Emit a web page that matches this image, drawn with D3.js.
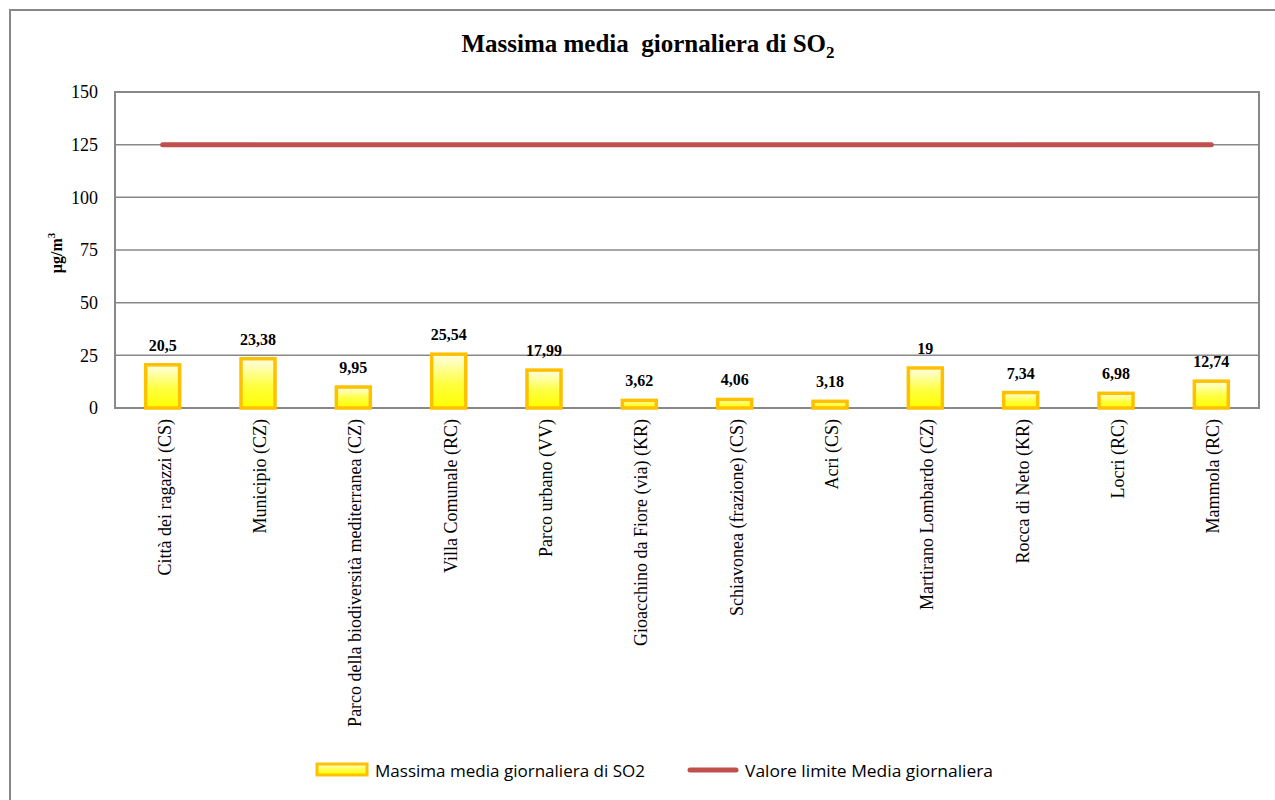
<!DOCTYPE html>
<html><head><meta charset="utf-8">
<script src="https://cdn.jsdelivr.net/npm/d3@7"></script>
<style>body{margin:0;background:#fff;}</style>
</head><body>
<svg id="chart" width="1275" height="800"></svg>
<script>
const categories = ["Città dei ragazzi (CS)","Municipio (CZ)","Parco della biodiversità mediterranea (CZ)","Villa Comunale (RC)","Parco urbano (VV)","Gioacchino da Fiore (via) (KR)","Schiavonea (frazione) (CS)","Acri (CS)","Martirano Lombardo (CZ)","Rocca di Neto (KR)","Locri (RC)","Mammola (RC)"];
const values = [20.5,23.38,9.95,25.54,17.99,3.62,4.06,3.18,19,7.34,6.98,12.74];
const valueLabels = ["20,5","23,38","9,95","25,54","17,99","3,62","4,06","3,18","19","7,34","6,98","12,74"];
const limitValues = [125,125,125,125,125,125,125,125,125,125,125,125];
const yTicks = [0,25,50,75,100,125,150];

const SERIF = "'Liberation Serif', 'DejaVu Serif', serif";
const svg = d3.select("#chart");
const m = {left:115, right:1259, top:92, bottom:408};

// outer frame
svg.append("rect").attr("x",10).attr("y",10).attr("width",1275).attr("height",800)
  .attr("fill","none").attr("stroke","#888").attr("stroke-width",2);

const x = d3.scaleBand().domain(categories).range([m.left,m.right]);
const y = d3.scaleLinear().domain([0,150]).range([m.bottom,m.top]);

const defs = svg.append("defs");
const g = defs.append("linearGradient").attr("id","barGrad").attr("x1",0).attr("y1",0).attr("x2",0).attr("y2",1);
g.append("stop").attr("offset","0%").attr("stop-color","#FFFFE6");
g.append("stop").attr("offset","55%").attr("stop-color","#FFFF40");
g.append("stop").attr("offset","100%").attr("stop-color","#FFFF00");

// gridlines
svg.append("g").selectAll("line").data(yTicks).join("line")
  .attr("x1",m.left).attr("x2",m.right).attr("y1",d=>y(d)).attr("y2",d=>y(d))
  .attr("stroke","#888").attr("stroke-width",1.5);
// plot border
svg.append("rect").attr("x",m.left).attr("y",m.top).attr("width",m.right-m.left).attr("height",m.bottom-m.top)
  .attr("fill","none").attr("stroke","#888").attr("stroke-width",2);

// y axis
const yAxis = d3.axisLeft(y).tickValues(yTicks).tickSize(0).tickPadding(17);
const ya = svg.append("g").attr("transform",`translate(${m.left},0)`).call(yAxis);
ya.attr("font-family",null).attr("font-size",null);
ya.select(".domain").remove();
ya.selectAll("text").style("font-family",SERIF).style("font-size","18px").attr("fill","#000");

// y label
const yl = svg.append("text").attr("transform","translate(62,253) rotate(-90)").attr("text-anchor","middle")
  .style("font-family",SERIF).attr("font-weight","bold").attr("font-size",16);
yl.append("tspan").text("µg/m");
yl.append("tspan").attr("dy",-7).attr("font-size",11).text("3");

// bars
const bw = 34;
svg.append("g").selectAll("rect").data(values).join("rect")
  .attr("x",(d,i)=>x(categories[i])+x.bandwidth()/2-bw/2)
  .attr("y",d=>y(d)).attr("width",bw).attr("height",d=>y(0)-y(d))
  .attr("fill","url(#barGrad)").attr("stroke","#FFC000").attr("stroke-width",3.5);

// value labels
svg.append("g").selectAll("text").data(values).join("text")
  .attr("x",(d,i)=>x(categories[i])+x.bandwidth()/2)
  .attr("y",d=>y(d)-14).attr("text-anchor","middle")
  .style("font-family",SERIF).attr("font-weight","bold").attr("font-size",16)
  .text((d,i)=>valueLabels[i]);

// limit line
const line = d3.line().x((d,i)=>x(categories[i])+x.bandwidth()/2).y(d=>y(d));
svg.append("path").datum(limitValues).attr("d",line).attr("fill","none")
  .attr("stroke","#C0504D").attr("stroke-width",5).attr("stroke-linecap","round");

// category labels
svg.append("g").selectAll("text").data(categories).join("text")
  .attr("transform",d=>`translate(${x(d)+x.bandwidth()/2+8},${m.bottom+11}) rotate(-90)`)
  .attr("text-anchor","end")
  .style("font-family",SERIF).attr("font-size",18)
  .text(d=>d);

// title
const t = svg.append("text").attr("x",648).attr("y",52).attr("text-anchor","middle")
  .style("font-family",SERIF).style("white-space","pre").attr("font-weight","bold").attr("font-size",25);
t.append("tspan").text("Massima media  giornaliera di SO");
t.append("tspan").attr("dy",6).attr("font-size",17).text("2");

// legend
const lg = svg.append("g");
lg.append("rect").attr("x",317).attr("y",764).attr("width",50).attr("height",11)
  .attr("fill","url(#barGrad)").attr("stroke","#FFC000").attr("stroke-width",3);
lg.append("text").attr("x",375).attr("y",777).style("font-family","'Open Sans', sans-serif").attr("font-size",16.5)
  .attr("textLength",270).attr("lengthAdjust","spacingAndGlyphs")
  .text("Massima media giornaliera di SO2");
lg.append("line").attr("x1",690).attr("x2",736).attr("y1",770).attr("y2",770)
  .attr("stroke","#C0504D").attr("stroke-width",5).attr("stroke-linecap","round");
lg.append("text").attr("x",745).attr("y",777).style("font-family","'Open Sans', sans-serif").attr("font-size",16.5)
  .attr("textLength",248).attr("lengthAdjust","spacingAndGlyphs")
  .text("Valore limite Media giornaliera");
</script>
</body></html>
